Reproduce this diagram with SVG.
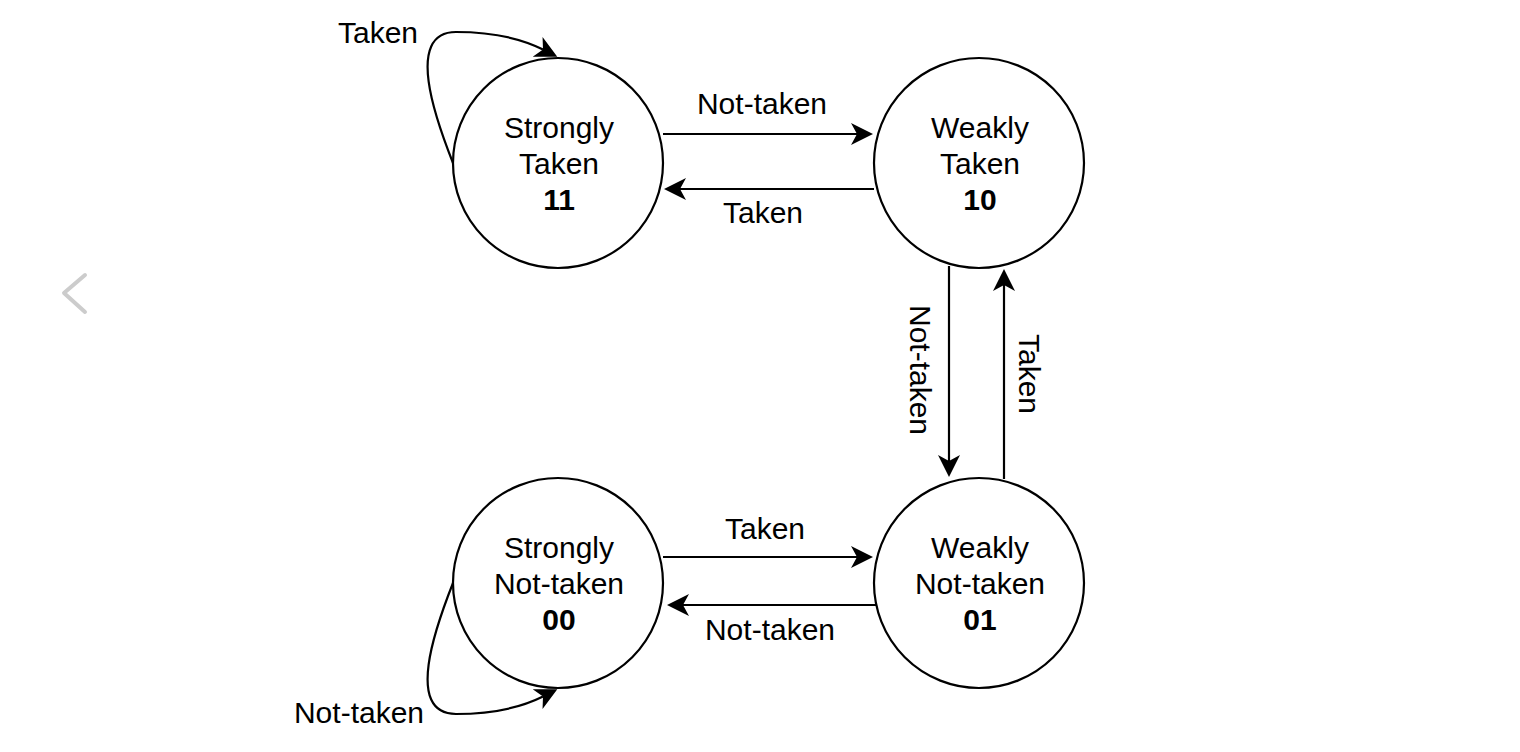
<svg xmlns="http://www.w3.org/2000/svg" width="1520" height="752" viewBox="0 0 1520 752">
  <defs>
    <marker id="arrow" markerUnits="userSpaceOnUse" markerWidth="24" markerHeight="24" refX="6" refY="12" orient="auto">
      <path d="M0,1 L22,12 L0,23 L6,12 Z" fill="#000"/>
    </marker>
    <style>
      .node { fill: #fff; stroke: #000; stroke-width: 2.2; }
      .lbl { font-family: "Liberation Sans", Arial, sans-serif; font-size: 30px; fill: #000; text-anchor: middle; }
      .b { font-weight: bold; }
      .edge { fill: none; stroke: #000; stroke-width: 2.2; marker-end: url(#arrow); }
    </style>
  </defs>
  <rect width="1520" height="752" fill="#fff"/>
  <polyline points="85,275 64,293 85,312" fill="none" stroke="#cccccc" stroke-width="4" stroke-linecap="round" stroke-linejoin="round"/>

  <g id="connectors">
    <path class="edge" d="M453,163 C436,120 404,32 456,32 C490,32 520,38 543,49.5"/>
    <path class="edge" d="M453,583 C436,626 404,714 456,714 C490,714 520,708 543,696.5"/>
    <path class="edge" d="M663,134 L857,134"/>
    <path class="edge" d="M874,189 L680,189"/>
    <path class="edge" d="M949,266 L949,461"/>
    <path class="edge" d="M1004,479 L1004,285"/>
    <path class="edge" d="M663,557 L857,557"/>
    <path class="edge" d="M876,605 L683,605"/>
    <text class="lbl" x="378" y="43">Taken</text>
    <text class="lbl" x="359" y="723">Not-taken</text>
    <text class="lbl" x="762" y="114">Not-taken</text>
    <text class="lbl" x="763" y="223">Taken</text>
    <text class="lbl" x="765" y="539">Taken</text>
    <text class="lbl" x="770" y="640">Not-taken</text>
    <text class="lbl" transform="translate(910,370) rotate(90)">Not-taken</text>
    <text class="lbl" transform="translate(1019,374) rotate(90)">Taken</text>
  </g>

  <g id="strongly-taken">
    <circle class="node" cx="558" cy="163" r="105"/>
    <text class="lbl" x="559" y="138">Strongly</text>
    <text class="lbl" x="559" y="174">Taken</text>
    <text class="lbl b" x="559" y="210">11</text>
  </g>
  <g id="weakly-taken">
    <circle class="node" cx="979" cy="163" r="105"/>
    <text class="lbl" x="980" y="138">Weakly</text>
    <text class="lbl" x="980" y="174">Taken</text>
    <text class="lbl b" x="980" y="210">10</text>
  </g>
  <g id="strongly-not-taken">
    <circle class="node" cx="558" cy="583" r="105"/>
    <text class="lbl" x="559" y="558">Strongly</text>
    <text class="lbl" x="559" y="594">Not-taken</text>
    <text class="lbl b" x="559" y="630">00</text>
  </g>
  <g id="weakly-not-taken">
    <circle class="node" cx="979" cy="583" r="105"/>
    <text class="lbl" x="980" y="558">Weakly</text>
    <text class="lbl" x="980" y="594">Not-taken</text>
    <text class="lbl b" x="980" y="630">01</text>
  </g>
</svg>
